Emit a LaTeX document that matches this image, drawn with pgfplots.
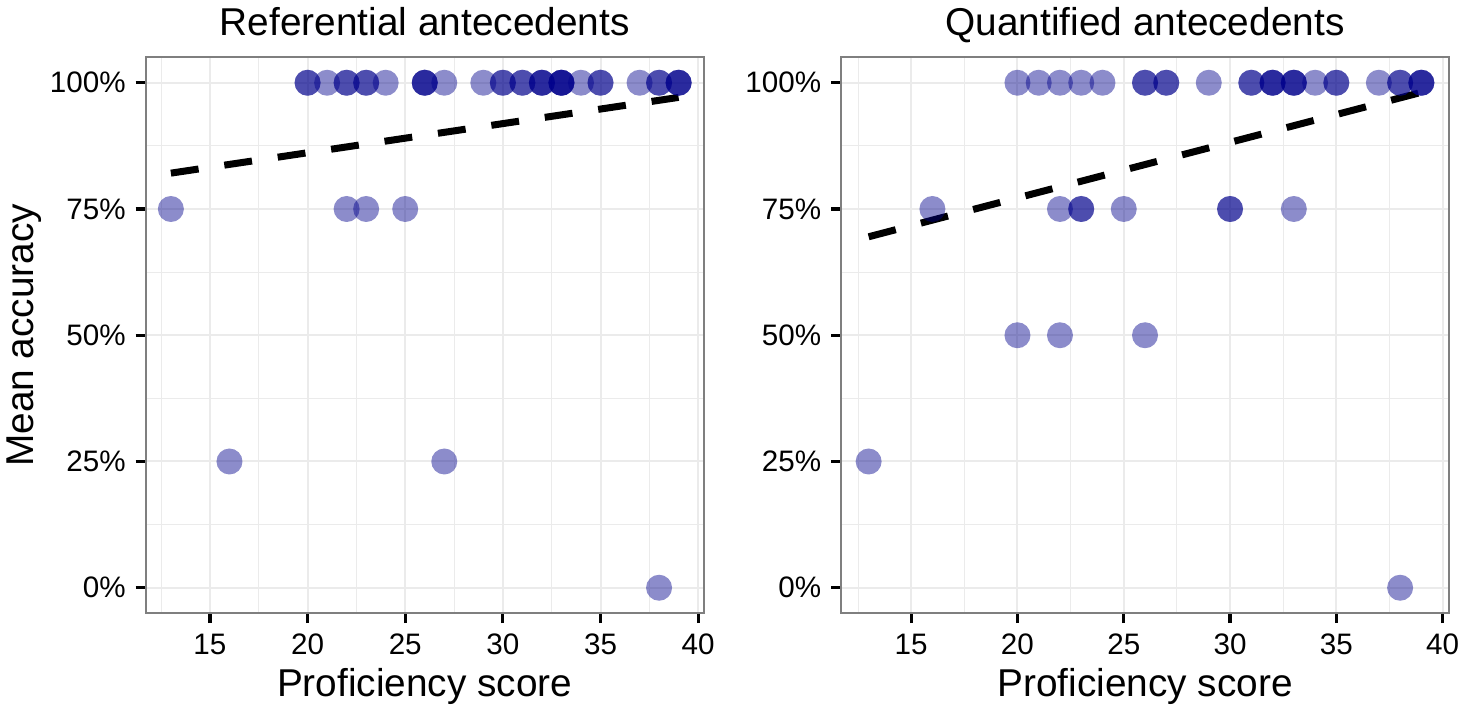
\documentclass[border=0pt]{standalone}
\usepackage{pgfplots}
\pgfplotsset{compat=1.18}
\usepackage{pgfplotstable}
\usepackage{fontspec}
\setmainfont{Liberation Sans}
\definecolor{dotblue}{RGB}{0,0,139}
\definecolor{gridc}{RGB}{235,235,235}
\definecolor{borderc}{RGB}{127,127,127}

\pgfplotstableread{
x y
13 0.75
16 0.25
20 1
20 1
21 1
22 1
22 1
22 0.75
23 1
23 1
23 0.75
24 1
25 0.75
26 1
26 1
26 1
27 1
27 0.25
29 1
30 1
30 1
31 1
31 1
32 1
32 1
32 1
33 1
33 1
33 1
33 1
34 1
35 1
35 1
37 1
38 1
38 1
38 0
39 1
39 1
39 1
}\refdata

\pgfplotstableread{
x y
13 0.25
16 0.75
20 1
20 0.5
21 1
22 1
22 0.75
22 0.5
23 1
23 0.75
23 0.75
24 1
25 0.75
26 1
26 1
26 0.5
27 1
27 1
29 1
30 0.75
30 0.75
31 1
31 1
32 1
32 1
32 1
33 1
33 1
33 1
33 0.75
34 1
35 1
35 1
37 1
38 1
38 1
38 0
39 1
39 1
39 1
}\quantdata

\newcommand{\labfont}{\fontsize{19.4bp}{22bp}\selectfont}
\newcommand{\tickfont}{\fontsize{14.8bp}{16bp}\selectfont}

\pgfplotsset{
  panel/.style={
    scale only axis,
    height=277.75bp,
    xmin=11.7, xmax=40.3, ymin=-0.05, ymax=1.05,
    xtick={15,20,25,30,35,40},
    xticklabels={15,20,25,30,35,40},
    ytick={0,0.25,0.5,0.75,1},
    yticklabels={0\%,25\%,50\%,75\%,100\%},
    minor xtick={12.5,17.5,22.5,27.5,32.5,37.5},
    minor ytick={0.125,0.375,0.625,0.875},
    grid=both,
    major grid style={draw=gridc, line width=1bp},
    minor grid style={draw=gridc, line width=0.5bp},
    axis line style={draw=borderc, line width=1bp},
    tick align=outside,
    tick pos=left,
    major tick length=5bp,
    minor tick length=0pt,
    major tick style={draw=black, line width=1.6bp},
    minor tick style={draw=none},
    ticklabel style={font=\tickfont, text=black},
    xticklabel style={anchor=base, yshift=-15.5bp},
    yticklabel style={anchor=east, inner sep=0pt, xshift=-4.75bp},
    title style={font=\labfont, anchor=base, yshift=-6pt, at={(axis description cs:0.5,1.0396)}},
    xlabel style={font=\labfont, anchor=base, at={(axis description cs:0.5,-0.1512)}},
    ylabel style={font=\labfont, anchor=base},
  },
  dots/.style={only marks, mark=*, mark size=6.5bp,
    mark options={draw=dotblue, draw opacity=0, line width=0pt, fill=dotblue, fill opacity=0.45}},
  fit/.style={black, line width=3.5bp, dash pattern=on 14bp off 13bp, line cap=butt},
}

\begin{document}
\begin{tikzpicture}
\path[use as bounding box] (0,0) rectangle (732.5bp,355.5bp);

\begin{axis}[panel,
  at={(72.75bp,49bp)}, anchor=south west,
  width=279.25bp,
  title={Referential antecedents},
  xlabel={Proficiency score},
  ylabel={Mean accuracy},
  ylabel style={at={(axis description cs:-0.2014,0.5)}},
]
\addplot[dots] table[x=x,y=y] {\refdata};
\addplot[fit] coordinates {(13,0.821) (39,0.971)};
\end{axis}

\begin{axis}[panel,
  at={(420.5bp,49bp)}, anchor=south west,
  width=304bp,
  title={Quantified antecedents},
  xlabel={Proficiency score},
]
\addplot[dots] table[x=x,y=y] {\quantdata};
\addplot[fit] coordinates {(13,0.695) (39,0.981)};
\end{axis}
\end{tikzpicture}
\end{document}
